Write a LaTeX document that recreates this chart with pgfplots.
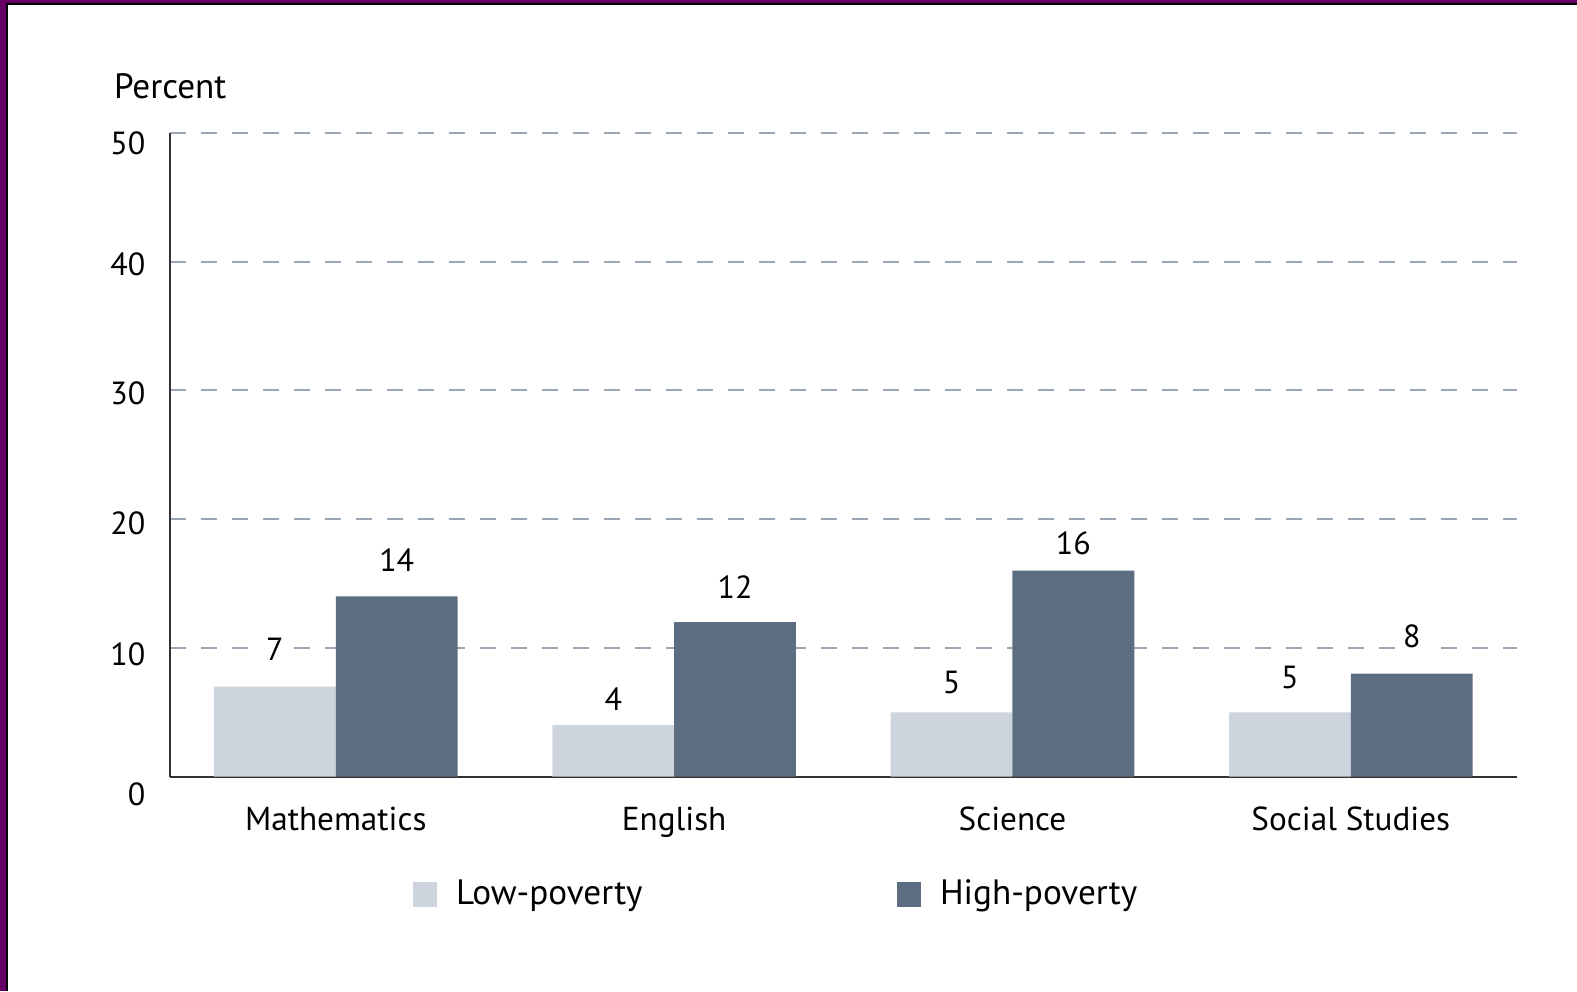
\documentclass[border=0pt]{standalone}
\usepackage{pgfplots}
\usepackage{pgfplotstable}
\pgfplotsset{compat=1.18}
\usepackage{fontspec}
\setmainfont{PT Sans}
\definecolor{lowc}{RGB}{205,212,221}
\definecolor{highc}{RGB}{92,108,129}
\definecolor{gridc}{RGB}{154,166,180}
\definecolor{framec}{RGB}{102,0,102}
\pgfplotsset{sqlegend/.style={legend image code/.code={\fill[##1,draw=none] (0pt,-6.1pt) rectangle (12.2pt,6.1pt);}}}
\pgfplotstableread{
x low lowoff high highoff
0 7 18.5 14 18.2
1 4 13.0 12 17.7
2 5 15.0 16 13.6
3 5 17.5 8 18.7
}\datatable
\begin{document}
\fontsize{16}{19}\selectfont
\begin{tikzpicture}
\useasboundingbox (0pt,0pt) rectangle (788.5pt,495.5pt);
\fill[white] (0pt,0pt) rectangle (788.5pt,495.5pt);
\fill[framec] (0pt,0pt) rectangle (2.75pt,495.5pt);
\fill[framec] (0pt,493.75pt) rectangle (788.5pt,495.5pt);
\draw[black, line width=1pt] (3.25pt,0pt) -- (3.25pt,493.25pt) -- (788.5pt,493.25pt);
\node[anchor=west, inner sep=0pt, font=\fontsize{17.6}{20}\selectfont] at (56.8pt,452.25pt) {Percent};
\begin{axis}[
  at={(85pt,107.15pt)}, anchor=south west,
  scale only axis, width=673.3pt, height=321.85pt,
  xmin=-0.49, xmax=3.49, ymin=0, ymax=50,
  ytick={0,10,20,30,40,50},
  yticklabels={\raisebox{-14.15pt}{0},\raisebox{-8.8pt}{10},\raisebox{-7.45pt}{20},\raisebox{-6.8pt}{30},\raisebox{-6.65pt}{40},\raisebox{-11pt}{50}},
  xtick={0,1,2,3}, xticklabels={Mathematics,English,Science,Social Studies},
  /pgf/number format/assume math mode=true,
  axis x line=bottom, axis y line=left,
  axis line style={draw=black!80, line width=1pt, -},
  major tick length=0pt,
  ymajorgrids, grid style={gridc, line width=1pt, dash pattern=on 8pt off 7.5pt},
  yticklabel style={anchor=base east, inner sep=0pt, xshift=-12.2pt},
  xticklabel style={anchor=base, inner sep=0pt, yshift=-26.65pt, font=\fontsize{16.6}{19}\selectfont},
  ybar=0pt, bar width=0.36,
  nodes near coords,
  every node near coord/.append style={anchor=center, yshift=\myoff*1pt, fill=white, inner sep=3pt, text=black},
  legend columns=2,
  legend style={at={(0.180,-0.183)}, anchor=west, draw=none, fill=none, inner sep=0pt,
    font=\fontsize{17.6}{20}\selectfont,
    /tikz/every odd column/.append style={column sep=7.5pt},
    /tikz/every even column/.append style={column sep=125pt}},
]
\addplot[fill=lowc, draw=none, bar shift=-0.18, sqlegend,
  visualization depends on={\thisrow{lowoff}\as\myoff}] table[x=x, y=low] {\datatable};
\addlegendentry{Low-poverty}
\addplot[fill=highc, draw=none, bar shift=0.18, sqlegend,
  visualization depends on={\thisrow{highoff}\as\myoff}] table[x=x, y=high] {\datatable};
\addlegendentry{High-poverty}
\end{axis}
\end{tikzpicture}
\end{document}
